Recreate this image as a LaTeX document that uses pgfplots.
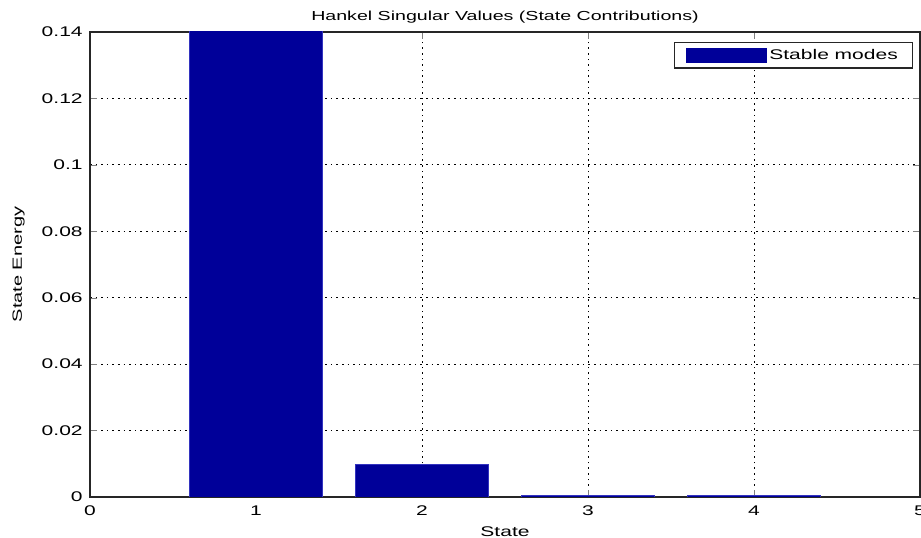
\documentclass[border=0pt]{standalone}
\usepackage{pgfplots}
\pgfplotsset{compat=1.18}
\usepackage{fontspec}
\setmainfont{Liberation Sans}[FakeStretch=1.5]
\definecolor{barblue}{rgb}{0,0,0.6}
\definecolor{edgeblue}{rgb}{0.2,0.2,0.75}

\begin{document}
\begin{tikzpicture}[x=0.75pt,y=0.75pt]
\begin{axis}[
  name=hsv,
  width=622.5pt, height=348.75pt,
  scale only axis,
  xmin=0, xmax=5, ymin=0, ymax=0.14,
  xtick={0,1,2,3,4,5},
  ytick={0,0.02,0.04,0.06,0.08,0.1,0.12,0.14},
  yticklabels={0,0.02,0.04,0.06,0.08,0.1,0.12,0.14},
  scaled y ticks=false,
  /pgf/number format/assume math mode=true,
  tick label style={font=\fontsize{10.5}{12}\selectfont, color=black},
  xticklabel style={yshift=-3pt},
  yticklabel style={xshift=-2pt},
  tick align=inside,
  tick pos=both,
  major tick length=5pt,
  xmajorgrids, ymajorgrids,
  grid style={black, line width=0.7pt, dash pattern=on 1.2pt off 3pt},
  axis line style={black!85, line width=0.8pt},
  title={Hankel Singular Values (State Contributions)},
  title style={font=\fontsize{9.8}{12}\selectfont, yshift=-3pt},
  xlabel={State},
  xlabel style={font=\fontsize{10.5}{12}\selectfont, yshift=-1.5pt},
  ylabel={State Energy},
  ylabel style={font=\fontsize{10}{12}\selectfont, yshift=6pt},
  legend style={at={(1,1)}, anchor=north east, xshift=-5.25pt, yshift=-7.5pt,
    draw=black!85, line width=0.8pt, font=\fontsize{10.5}{12}\selectfont,
    inner xsep=9pt, inner ysep=3pt, row sep=0pt},
  legend cell align=left,
  legend image code/.code={
    \fill[barblue] (0pt,-5.6pt) rectangle (60pt,5.6pt);
  },
  clip=true,
]
\addplot[ybar, bar width=0.8, fill=barblue, draw=edgeblue, line width=0.4pt]
  coordinates {(1,0.30) (2,0.0098) (3,0.00045) (4,0.0004)};
\addlegendentry{Stable modes}
\end{axis}
\pgfresetboundingbox
\path[use as bounding box]
  ([xshift=-67.5pt,yshift=-30.75pt]hsv.south west)
  rectangle ([xshift=0.75pt,yshift=24pt]hsv.north east);
\end{tikzpicture}
\end{document}
